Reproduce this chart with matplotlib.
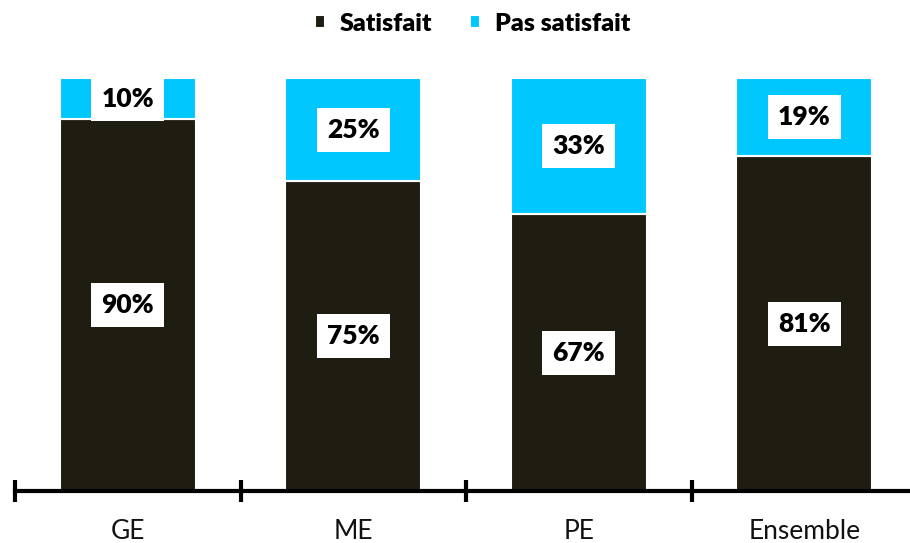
import matplotlib.pyplot as plt
import numpy as np

categories = ['GE', 'ME', 'PE', 'Ensemble']
satisfait = [90, 75, 67, 81]
pas_satisfait = [10, 25, 33, 19]

dark = '#1f1c12'
cyan = '#00c8ff'

plt.rcParams['font.family'] = ['Lato', 'DejaVu Sans']

fig = plt.figure(figsize=(9.1, 5.43), dpi=100)
ax = fig.add_axes([15 / 910, 1 - 491 / 543, 902 / 910, 413 / 543])

x = np.arange(len(categories))
w = 0.603
ax.bar(x, satisfait, w, color=dark, label='Satisfait', edgecolor='white', linewidth=1.5)
ax.bar(x, pas_satisfait, w, bottom=satisfait, color=cyan, label='Pas satisfait',
       edgecolor='white', linewidth=1.5)

box = dict(boxstyle='square,pad=0.38', facecolor='white', edgecolor='none')
for i in range(len(categories)):
    ax.text(x[i], satisfait[i] / 2, f'{satisfait[i]}%', ha='center', va='center',
            fontsize=19, fontweight='heavy', color='black', bbox=box)
    ax.text(x[i], satisfait[i] + pas_satisfait[i] / 2, f'{pas_satisfait[i]}%', ha='center',
            va='center', fontsize=19, fontweight='heavy', color='black', bbox=box)

ax.set_xlim(-0.5, len(categories) - 0.5)
ax.set_ylim(0, 100)
for s in ['top', 'right', 'left']:
    ax.spines[s].set_visible(False)
ax.spines['bottom'].set_linewidth(3)
ax.spines['bottom'].set_color('black')
ax.set_yticks([])
ax.set_xticks(x)
ax.set_xticklabels(categories, fontsize=19, fontweight='normal', color='#111111')
ax.tick_params(axis='x', which='major', length=0, pad=20)
ax.set_xticks(np.arange(-0.5, len(categories)), minor=True)
ax.tick_params(axis='x', which='minor', direction='inout', length=16, width=3, color='black')

fig.legend(loc='upper center', bbox_to_anchor=(0.519, 1.018), ncol=2, frameon=False,
           prop={'size': 18, 'weight': 'heavy'}, handlelength=0.4, handleheight=0.4,
           handletextpad=0.6, columnspacing=1.5)

fig.savefig('out.png', dpi=100)
